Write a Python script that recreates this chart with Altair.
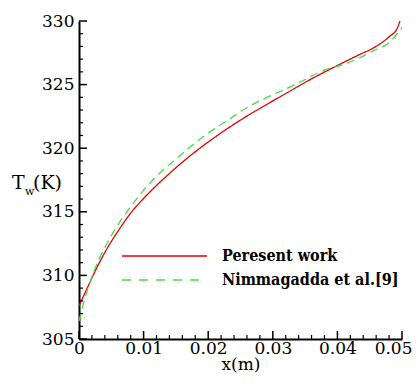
import altair as alt
import pandas as pd

# Present work (red solid)
red_x = [0, 0.0015, 0.003, 0.0045, 0.006, 0.008, 0.010, 0.013, 0.016, 0.0195,
         0.0245, 0.0296, 0.0327, 0.0358, 0.040, 0.043, 0.0461, 0.0481, 0.0492, 0.0497]
red_t = [307.6, 309.25, 310.85, 312.25, 313.45, 314.9, 316.05, 317.55, 318.9, 320.3,
         322.05, 323.6, 324.5, 325.4, 326.5, 327.26, 328.04, 328.8, 329.37, 330.0]

# Nimmagadda et al. (green dashed)
green_x = [0, 0.00077, 0.0023, 0.0039, 0.0052, 0.00645, 0.008, 0.0098, 0.0116, 0.0134,
           0.0149, 0.0172, 0.0192, 0.0218, 0.0239, 0.0262, 0.0285, 0.0309, 0.0337,
           0.0378, 0.0404, 0.043, 0.0455, 0.0481, 0.05]
green_t = [306.4, 307.95, 310.3, 312.1, 313.3, 314.3, 315.4, 316.57, 317.6, 318.45,
           319.1, 320.1, 320.9, 321.8, 322.5, 323.25, 323.85, 324.4, 325.06,
           326.1, 326.5, 327.0, 327.65, 328.35, 329.5]

series_names = ["Peresent work", "Nimmagadda et al.[9]"]
series_colors = ["#e60000", "#44dd44"]

x_major = [0, 0.01, 0.02, 0.03, 0.04, 0.05]
x_minor = [0.002, 0.004, 0.006, 0.008, 0.012, 0.014, 0.016, 0.018, 0.022, 0.024, 0.026,
           0.028, 0.032, 0.034, 0.036, 0.038, 0.042, 0.044, 0.046, 0.048]
y_major = [305, 310, 315, 320, 325, 330]
y_minor = [v for v in range(306, 330) if v % 5 != 0]

W, H = 323, 318
FONT = "DejaVu Serif"
LFONT = "DejaVu Serif Condensed, DejaVu Serif"

df = pd.DataFrame({
    "x": red_x + green_x,
    "T": red_t + green_t,
    "series": [series_names[0]] * len(red_x) + [series_names[1]] * len(green_x),
})

xs = alt.Scale(domain=[0, 0.05], nice=False, zero=False)
ys = alt.Scale(domain=[305, 330], nice=False, zero=False)

lines = alt.Chart(df).mark_line(strokeWidth=1.3, clip=True, interpolate="monotone").encode(
    x=alt.X("x:Q", scale=xs, axis=alt.Axis(
        values=x_major, title="x(m)", labelFlush=False, labelOverlap=False,
        labelExpr="datum.value == 0 ? '0' : format(datum.value, '.2f')",
        labelAlign={"condition": {"test": "datum.value >= 0.0499", "value": "right"}, "value": "center"},
        labelOffset={"condition": {"test": "datum.value >= 0.0499", "value": 10}, "value": 0},
        labelPadding=1, titlePadding=0)),
    y=alt.Y("T:Q", scale=ys, axis=alt.Axis(values=y_major, title=None,
                                           labelPadding=5, labelOverlap=False)),
    color=alt.Color("series:N", scale=alt.Scale(domain=series_names, range=series_colors), legend=None),
    strokeDash=alt.StrokeDash("series:N", scale=alt.Scale(domain=series_names, range=[[1, 0], [8, 5]]), legend=None),
)

xmaj = alt.Chart(pd.DataFrame({"v": x_major})).mark_rule(color="black", strokeWidth=1.5).encode(
    x=alt.X("v:Q", scale=xs), y=alt.value(H), y2=alt.value(H - 8))
xmin = alt.Chart(pd.DataFrame({"v": x_minor})).mark_rule(color="black", strokeWidth=1.2).encode(
    x=alt.X("v:Q", scale=xs), y=alt.value(H), y2=alt.value(H - 4))
ymaj = alt.Chart(pd.DataFrame({"v": y_major})).mark_rule(color="black", strokeWidth=1.5).encode(
    y=alt.Y("v:Q", scale=ys), x=alt.value(0), x2=alt.value(8))
ymin = alt.Chart(pd.DataFrame({"v": y_minor})).mark_rule(color="black", strokeWidth=1.2).encode(
    y=alt.Y("v:Q", scale=ys), x=alt.value(0), x2=alt.value(4))

one = pd.DataFrame({"a": [0]})
leg_red = alt.Chart(one).mark_rule(color=series_colors[0], strokeWidth=1.3).encode(
    x=alt.value(43), x2=alt.value(128), y=alt.value(235))
leg_green = alt.Chart(one).mark_rule(color=series_colors[1], strokeWidth=1.5, strokeDash=[9, 8]).encode(
    x=alt.value(43), x2=alt.value(122), y=alt.value(259))
leg_t1 = alt.Chart(one).mark_text(text=series_names[0], font=LFONT, fontSize=16, fontWeight="bold",
                                  align="left", baseline="middle", color="black").encode(
    x=alt.value(143), y=alt.value(235))
leg_t2 = alt.Chart(one).mark_text(text=series_names[1], font=LFONT, fontSize=16, fontWeight="bold",
                                  align="left", baseline="middle", color="black").encode(
    x=alt.value(143), y=alt.value(259))

yt_T = alt.Chart(one).mark_text(text="T", font=FONT, fontSize=19, align="left",
                                baseline="alphabetic", color="black").encode(
    x=alt.value(-67), y=alt.value(168))
yt_w = alt.Chart(one).mark_text(text="w", font=FONT, fontSize=11, align="left",
                                baseline="alphabetic", color="black").encode(
    x=alt.value(-54), y=alt.value(174))
yt_K = alt.Chart(one).mark_text(text="(K)", font=FONT, fontSize=19, align="left",
                                baseline="alphabetic", color="black").encode(
    x=alt.value(-46), y=alt.value(168))

chart = alt.layer(
    lines, xmaj, xmin, ymaj, ymin, leg_red, leg_green, leg_t1, leg_t2, yt_T, yt_w, yt_K
).properties(
    width=W, height=H,
    autosize=alt.AutoSizeParams(type="none"),
    padding={"left": 71, "top": 13, "right": 10, "bottom": 37},
    background="white",
).configure_view(stroke=None).configure_axis(
    labelFont=FONT, labelFontSize=17, labelColor="black",
    titleFont=FONT, titleFontSize=17, titleFontWeight="normal", titleColor="black",
    domainColor="black", domainWidth=2, ticks=False, tickSize=0, grid=False,
)

chart.save("out.html", embed_options={"renderer": "svg", "actions": False})
